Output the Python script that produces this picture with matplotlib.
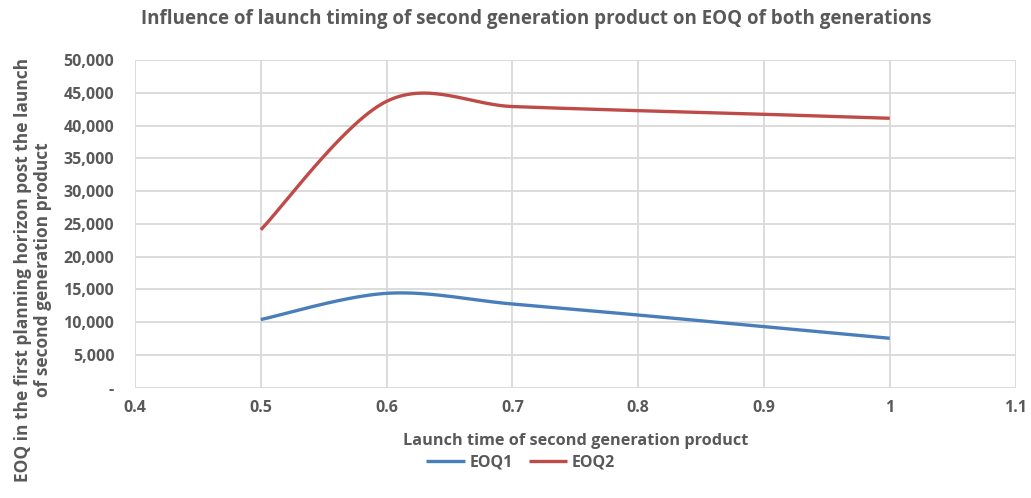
import numpy as np
import matplotlib
matplotlib.use("Agg")
import matplotlib.pyplot as plt
from matplotlib.ticker import FuncFormatter, MultipleLocator

launch_time = [0.5, 0.6, 0.7, 0.8, 0.9, 1.0]
eoq1 = [10400, 14400, 12770, 11090, 9310, 7540]
eoq2 = [24100, 43700, 42900, 42270, 41720, 41110]

title = "Influence of launch timing of second generation product on EOQ of both generations"
xlabel = "Launch time of second generation product"
ylabel = "EOQ in the first planning horizon post the launch\nof second generation product"

GRAY = "#595959"
FONT = ["Open Sans", "DejaVu Sans"]


def excel_smooth(x, y, n=60):
    """Excel-style smoothed line: cubic Bezier segments, tension 1/6."""
    P = np.column_stack([x, y]).astype(float)
    m = len(P)
    out = []
    t = np.linspace(0, 1, n)[:, None]
    for i in range(m - 1):
        p0 = P[i - 1] if i > 0 else P[i]
        p1 = P[i]
        p2 = P[i + 1]
        p3 = P[i + 2] if i + 2 < m else P[i + 1]
        c1 = p1 + (p2 - p0) / 6.0
        c2 = p2 - (p3 - p1) / 6.0
        seg = ((1 - t) ** 3) * p1 + 3 * ((1 - t) ** 2) * t * c1 + 3 * (1 - t) * t ** 2 * c2 + t ** 3 * p2
        out.append(seg if i == 0 else seg[1:])
    s = np.vstack(out)
    return s[:, 0], s[:, 1]


fig = plt.figure(figsize=(10.31, 4.98), dpi=100)
ax = fig.add_axes([0.131, 0.2215, 0.854, 0.658])

x1, y1 = excel_smooth(launch_time, eoq1)
x2, y2 = excel_smooth(launch_time, eoq2)
ax.plot(x1, y1, color="#4A7EBB", lw=2.4, label="EOQ1", solid_capstyle="butt")
ax.plot(x2, y2, color="#BE4B48", lw=2.4, label="EOQ2", solid_capstyle="butt")

ax.set_xlim(0.4, 1.1)
ax.set_ylim(0, 50000)
ax.xaxis.set_major_locator(MultipleLocator(0.1))
ax.yaxis.set_major_locator(MultipleLocator(5000))
ax.xaxis.set_major_formatter(FuncFormatter(lambda v, p: f"{v:g}"))
ax.yaxis.set_major_formatter(FuncFormatter(lambda v, p: "-" if abs(v) < 1e-9 else f"{v:,.0f}"))

ax.grid(True, color="#D9D9D9", lw=1.3)
ax.set_axisbelow(True)
for s in ax.spines.values():
    s.set_visible(False)
ax.tick_params(length=0, colors=GRAY)
ax.tick_params(axis="y", pad=15)
ax.tick_params(axis="x", pad=9)
for lab in ax.get_xticklabels() + ax.get_yticklabels():
    lab.set_fontweight("bold")
    lab.set_fontsize(11.5)
    lab.set_family(FONT)

fig.text(0.52, 0.962, title, ha="center", va="center", fontsize=13.5, fontweight="bold",
         color=GRAY, family=FONT)
ax.set_xlabel(xlabel, fontsize=11.7, fontweight="bold", color=GRAY, family=FONT, labelpad=12)
fig.text(0.032, 0.458, ylabel, rotation=90, ha="center", va="center", multialignment="center",
         fontsize=12.5, fontweight="bold", color=GRAY, family=FONT, linespacing=1.1)

leg = fig.legend(loc="center", bbox_to_anchor=(0.505, 0.072), ncol=2, frameon=False,
                 prop={"family": FONT, "weight": "bold", "size": 11.5}, handlelength=2.4,
                 columnspacing=1.0, handletextpad=0.3)
for t in leg.get_texts():
    t.set_color(GRAY)

fig.savefig("out.png", dpi=100)
